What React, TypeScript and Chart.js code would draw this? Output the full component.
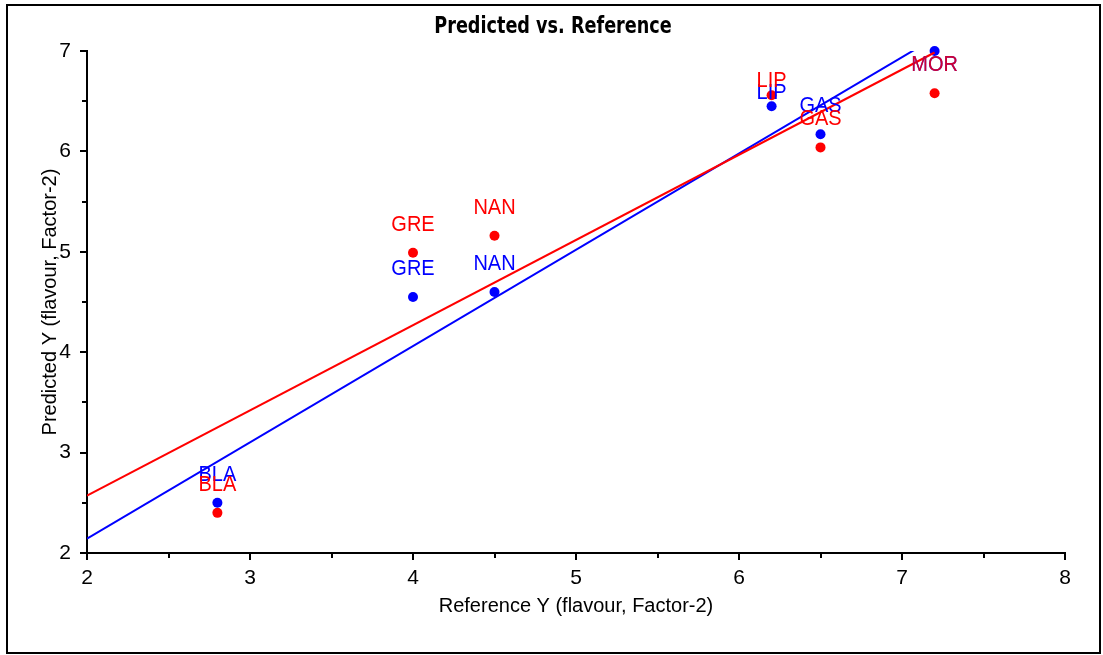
import React, { useEffect, useRef } from "react";
import { Chart, registerables } from "chart.js";

Chart.register(...registerables);

// ---- Data ----
const categories = ["BLA", "GRE", "NAN", "LIP", "GAS", "MOR"];
const referenceY = [2.8, 4.0, 4.5, 6.2, 6.5, 7.2];
const predictedBlue = [2.5, 4.55, 4.6, 6.45, 6.17, 7.0];
const predictedRed = [2.4, 4.99, 5.16, 6.56, 6.04, 6.58];
// Fitted lines (end points)
const fitX = [2, 7.2];
const fitBlue = [2.143, 7.13];
const fitRed = [2.571, 6.985];

const chartTitle = "Predicted vs. Reference";
const xTitle = "Reference Y (flavour, Factor-2)";
const yTitle = "Predicted Y (flavour, Factor-2)";

const BLUE = "#0000ff";
const RED = "#ff0000";
const FONT = '"Liberation Sans", Arial, sans-serif';

// label placement style (pixels above point baseline)
const labelLift: Record<string, number> = {
  "blue:LIP": 7,
  "red:LIP": 8,
  "blue:MOR": -20,
};
const labelAlpha: Record<string, number> = {
  "red:MOR": 0.8,
};

const framePlugin = {
  id: "frameAndTitle",
  afterDraw(chart: any) {
    const ctx = chart.ctx;
    ctx.save();
    ctx.strokeStyle = "#000";
    ctx.lineWidth = 2;
    ctx.strokeRect(7, 5, 1093, 648);
    ctx.fillStyle = "#000";
    ctx.font = 'bold 20px "DejaVu Sans Condensed", "DejaVu Sans", sans-serif';
    ctx.textAlign = "center";
    ctx.textBaseline = "alphabetic";
    ctx.translate(553, 33);
    ctx.scale(0.98, 1.13);
    ctx.fillText(chartTitle, 0, 0);
    ctx.restore();
  },
};

const tickPlugin = {
  id: "minorMajorTicks",
  afterDraw(chart: any) {
    const ctx = chart.ctx;
    const xs = chart.scales.x;
    const ys = chart.scales.y;
    ctx.save();
    ctx.strokeStyle = "#000";
    ctx.lineWidth = 2;
    xs.ticks.forEach((t: any) => {
      const px = Math.round(xs.getPixelForValue(t.value));
      const len = Number.isInteger(t.value) ? 7 : 5;
      ctx.beginPath();
      ctx.moveTo(px, xs.top);
      ctx.lineTo(px, xs.top + len);
      ctx.stroke();
    });
    ys.ticks.forEach((t: any) => {
      const py = Math.round(ys.getPixelForValue(t.value));
      const len = Number.isInteger(t.value) ? 7 : 5;
      ctx.beginPath();
      ctx.moveTo(ys.right, py);
      ctx.lineTo(ys.right - len, py);
      ctx.stroke();
    });
    ctx.restore();
  },
};

const labelPlugin = {
  id: "pointLabels",
  afterDatasetsDraw(chart: any) {
    const ctx = chart.ctx;
    ctx.save();
    ctx.font = "20px " + FONT;
    ctx.textAlign = "center";
    ctx.textBaseline = "alphabetic";
    const order = [2, 3];
    order.forEach((i) => {
      const ds: any = chart.data.datasets[i];
      if (!ds || !ds.pointLabels) return;
      const meta = chart.getDatasetMeta(i);
      meta.data.forEach((el: any, j: number) => {
        const name = ds.pointLabels[j];
        const key = ds.seriesKey + ":" + name;
        const lift = labelLift[key] ?? 22;
        ctx.globalAlpha = labelAlpha[key] ?? 1;
        ctx.fillStyle = ds.labelColor;
        ctx.save();
        ctx.translate(el.x, el.y - lift);
        ctx.scale(1, 1.06);
        ctx.fillText(name, 0, 0);
        ctx.restore();
      });
    });
    ctx.restore();
  },
};

export default function App() {
  const canvasRef = useRef<HTMLCanvasElement | null>(null);

  useEffect(() => {
    if (!canvasRef.current) return;
    const tickFont = { family: FONT, size: 21 };
    const titleFont = { family: FONT, size: 20 };
    const chart = new Chart(canvasRef.current, {
      type: "scatter",
      data: {
        datasets: [
          {
            type: "line",
            label: "Fit red",
            data: fitX.map((x, i) => ({ x, y: fitRed[i] })),
            borderColor: RED,
            borderWidth: 2,
            pointRadius: 0,
            fill: false,
            order: 0,
          } as any,
          {
            type: "line",
            label: "Fit blue",
            data: fitX.map((x, i) => ({ x, y: fitBlue[i] })),
            borderColor: BLUE,
            borderWidth: 2,
            pointRadius: 0,
            fill: false,
            order: 1,
          } as any,
          {
            label: "Blue",
            data: referenceY.map((x, i) => ({ x, y: predictedBlue[i] })),
            backgroundColor: BLUE,
            borderColor: BLUE,
            borderWidth: 0,
            pointRadius: 5,
            clip: false,
            order: 2,
            pointLabels: categories,
            labelColor: BLUE,
            seriesKey: "blue",
          } as any,
          {
            label: "Red",
            data: referenceY.map((x, i) => ({ x, y: predictedRed[i] })),
            backgroundColor: RED,
            borderColor: RED,
            borderWidth: 0,
            pointRadius: 5,
            clip: false,
            order: 3,
            pointLabels: categories,
            labelColor: RED,
            seriesKey: "red",
          } as any,
        ],
      },
      options: {
        responsive: false,
        animation: false,
        layout: { padding: { top: 51, right: 38, left: 0, bottom: 0 } },
        plugins: {
          legend: { display: false },
          tooltip: { enabled: false },
          title: { display: false },
        },
        scales: {
          x: {
            type: "linear",
            min: 2,
            max: 8,
            ticks: {
              stepSize: 0.5,
              callback: (v: any) => (Number.isInteger(v) ? String(v) : ""),
              font: tickFont,
              color: "#000",
              padding: 13,
              maxRotation: 0,
              autoSkip: false,
            },
            grid: { display: false, drawTicks: false },
            border: { display: true, color: "#000", width: 2 },
            title: {
              display: true,
              text: xTitle,
              font: titleFont,
              color: "#000",
              padding: { top: 0, bottom: 37 },
            },
            afterFit: (s: any) => {
              s.height = 102;
            },
          },
          y: {
            type: "linear",
            min: 2,
            max: 7,
            ticks: {
              stepSize: 0.5,
              callback: (v: any) => (Number.isInteger(v) ? String(v) : ""),
              font: tickFont,
              color: "#000",
              padding: 16,
              autoSkip: false,
            },
            grid: { display: false, drawTicks: false },
            border: { display: true, color: "#000", width: 2 },
            title: {
              display: true,
              text: yTitle,
              font: titleFont,
              color: "#000",
              padding: { top: 38, bottom: 0 },
            },
            afterFit: (s: any) => {
              s.width = 87;
            },
          },
        },
      } as any,
      plugins: [tickPlugin, labelPlugin, framePlugin],
    });
    return () => chart.destroy();
  }, []);

  return (
    <div style={{ position: "absolute", left: 0, top: 0, width: 1103, height: 655, background: "#fff" }}>
      <canvas ref={canvasRef} width={1103} height={655} style={{ display: "block" }} />
    </div>
  );
}
